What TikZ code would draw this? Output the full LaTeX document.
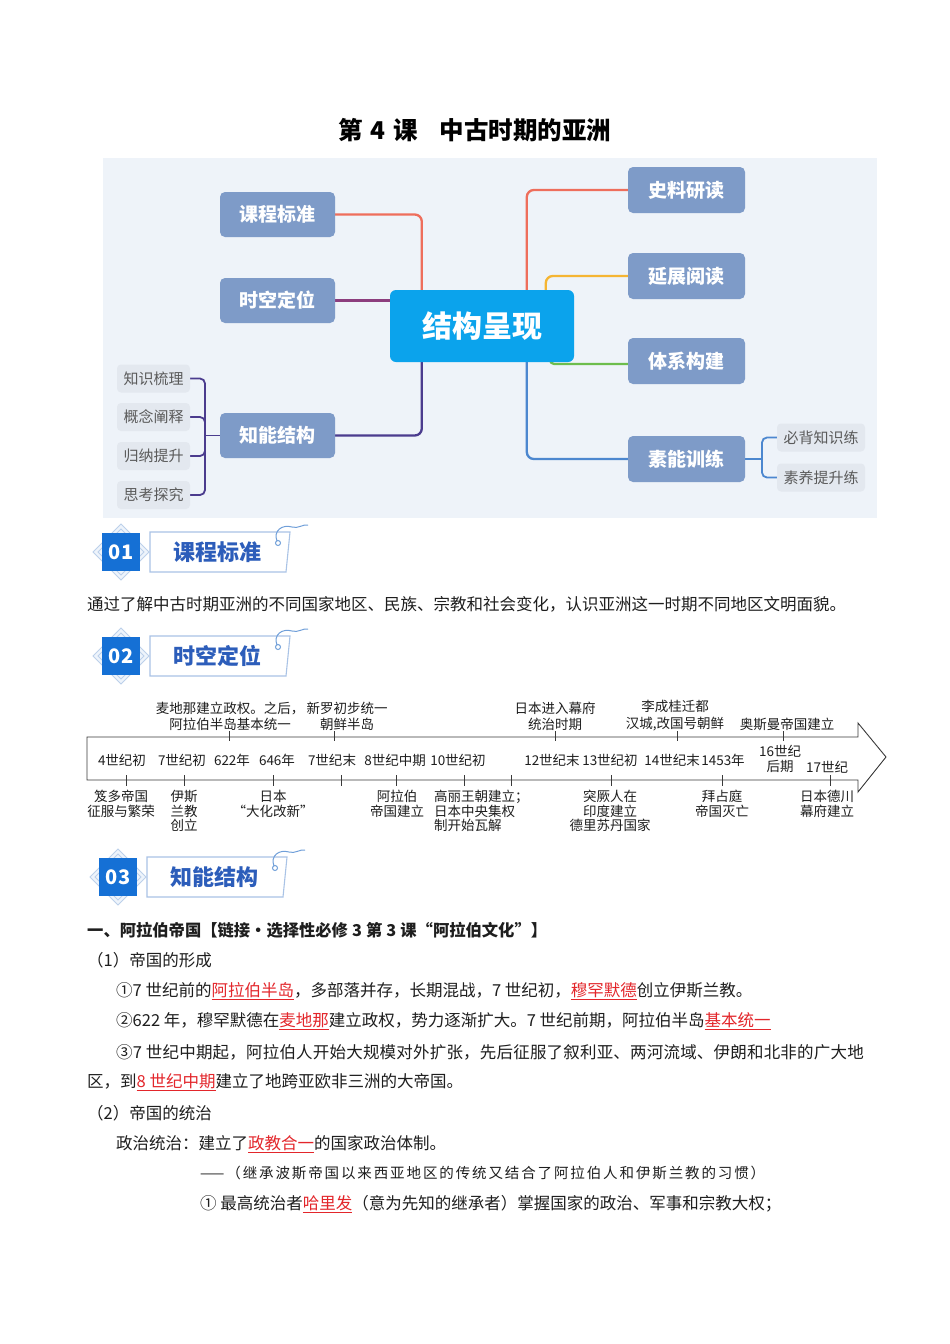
\documentclass[tikz,border=0pt]{standalone}
\usepackage{fontspec}
\setmainfont{Noto Sans CJK SC}
\usetikzlibrary{calc,backgrounds}
\definecolor{cMMbg}{HTML}{EEF3F9}
\definecolor{cMnode}{HTML}{7E9BC8}
\definecolor{cCenter}{HTML}{0BA3EC}
\definecolor{cSbg}{HTML}{E3E8EF}
\definecolor{cStext}{HTML}{5A5A5A}
\definecolor{cRed}{HTML}{EE6E5C}
\definecolor{cPur}{HTML}{8C3D7E}
\definecolor{cDpur}{HTML}{4B3C8E}
\definecolor{cOra}{HTML}{F5B533}
\definecolor{cGrn}{HTML}{6DBD4D}
\definecolor{cBlu}{HTML}{4C87CF}
\definecolor{cHblue}{HTML}{1570D5}
\definecolor{cHdia}{HTML}{BCD0EA}
\definecolor{cHdiafill}{HTML}{EEF4FB}
\definecolor{cHframe}{HTML}{A9C3E6}
\definecolor{cHtext}{HTML}{2C5DBA}
\definecolor{cBody}{HTML}{1E1E1E}
\definecolor{cRedt}{HTML}{E3262B}
\definecolor{cTl}{HTML}{3A3A3A}
\newcommand\setfs[2]{\fontsize{#1}{#2}\selectfont}
\newcommand\rdu[1]{{\color{cRedt}\underline{#1}}}
\newcommand\hdrbox[5]{%
\begin{scope}[shift={(#1,#2)}]
 \draw[hdiastyle] (21,-28) -- (49,0) -- (21,28) -- (-7,0) -- cycle;
 \draw[hdiastyle,fill=none] (21,-23) -- (44,0) -- (21,23) -- (-2,0) -- cycle;
 \node[hnumstyle] (#5n) at (21,0) {#3};
 \draw[hframestyle] (50,-20) -- (190,-20) -- (186,20) -- (50,20) -- cycle;
 \draw[hswirlstyle] (178,-9) circle (2.5);
 \draw[hswirlstyle] (177,-11) .. controls (173,-21) and (182,-28) .. (192,-25) .. controls (198,-23) and (203,-28) .. (208,-27);
 \node[htextstyle] (#5t) at (117,0) {#4};
\end{scope}}
\begin{document}
\begin{tikzpicture}[x=1pt,y=-1pt,
  mnode/.style={rounded corners=5pt, fill=cMnode, text=white, font=\setfs{19}{19}\bfseries, minimum width=115pt, minimum height=45pt, inner sep=0},
  rmnode/.style={mnode, minimum width=117pt, minimum height=46pt},
  cnode/.style={rounded corners=6pt, fill=cCenter, text=white, font=\setfs{30}{30}\bfseries, minimum width=184pt, minimum height=72pt, inner sep=0},
  snode/.style={rounded corners=4pt, fill=cSbg, text=cStext, font=\setfs{15}{15}, minimum width=73pt, minimum height=28pt, inner sep=0},
  rnode/.style={snode, minimum width=88pt},
  conn/.style={line width=2.3pt, rounded corners=7pt},
  bconn/.style={line width=1.8pt, rounded corners=5pt},
  tline/.style={draw=cTl, line width=0.9pt},
  tlab/.style={font=\setfs{13.5}{16.5}, align=center, inner sep=0, text=cBody},
  blab/.style={font=\setfs{13.5}{14.6}, align=center, inner sep=0, text=cBody, anchor=north},
  body/.style={font=\setfs{16.5}{16.5}, anchor=west, inner sep=0, text=cBody},
  hdiastyle/.style={draw=cHdia, fill=cHdiafill, line width=0.8pt},
  hnumstyle/.style={fill=cHblue, text=white, font=\setfs{20}{20}\bfseries, minimum width=38pt, minimum height=38pt, inner sep=0},
  hframestyle/.style={draw=cHframe, fill=white, line width=1.1pt},
  hswirlstyle/.style={draw=cBlu!80, line width=1pt},
  htextstyle/.style={text=cHtext, font=\setfs{22}{22}\bfseries, inner sep=0}
]
\useasboundingbox (0,0) rectangle (950,1344);

% title
\node[font=\setfs{24.5}{24.5}\bfseries, text=black, inner sep=0] (title) at (475,130) {第\hspace{0.3em}4\hspace{0.3em}课\hspace{0.9em}中古时期的亚洲};

% mind map nodes
\node[cnode] (jg) at (482,326) {结构呈现};
\node[mnode] (kc) at (277.5,214.5) {课程标准};
\node[mnode] (sk) at (277.5,300.5) {时空定位};
\node[mnode] (zn) at (277.5,435.5) {知能结构};
\node[rmnode] (sl) at (686.5,190) {史料研读};
\node[rmnode] (yz) at (686.5,276) {延展阅读};
\node[rmnode] (tx) at (686.5,361) {体系构建};
\node[rmnode] (sn) at (686.5,459) {素能训练};
\node[snode] (k1) at (153.5,378.5) {知识梳理};
\node[snode] (k2) at (153.5,417) {概念阐释};
\node[snode] (k3) at (153.5,456) {归纳提升};
\node[snode] (k4) at (153.5,495) {思考探究};
\node[rnode] (r1) at (821,437.5) {必背知识练};
\node[rnode] (r2) at (821,477.5) {素养提升练};
\coordinate (bl) at (205,435.5);
\coordinate (br) at (762,459);

\begin{scope}[on background layer]
\fill[white] (0,0) rectangle (950,1344);
\fill[cMMbg] (103,158) rectangle (877,518);
\draw[conn,cRed] (kc.east) -| ([xshift=32pt]jg.north west);
\draw[conn,cPur] (sk.east) -- (sk.east -| jg.west);
\draw[conn,cDpur] (zn.east) -| ([xshift=32pt]jg.south west);
\draw[conn,cRed] ([xshift=137pt]jg.north west) |- (sl.west);
\draw[conn,cOra] ([xshift=156pt]jg.north west) |- (yz.west);
\draw[conn,cGrn,rounded corners=4pt] ([xshift=-24pt]jg.south east) |- ([yshift=-3pt]tx.west);
\draw[conn,cBlu] ([xshift=137pt]jg.south west) |- (sn.west);
\draw[bconn,cDpur] (zn.west) -- (bl);
\draw[bconn,cDpur] (k1.east) -| (bl) |- (k4.east);
\draw[bconn,cDpur] (k2.east) -| (bl);
\draw[bconn,cDpur] (k3.east) -| (bl);
\draw[bconn,cBlu] (sn.east) -- (br);
\draw[bconn,cBlu] (r1.west) -| (br) |- (r2.west);
\end{scope}

% section headers
\hdrbox{100}{552}{01}{课程标准}{h1}
\hdrbox{100}{656}{02}{时空定位}{h2}
\hdrbox{97}{877}{03}{知能结构}{h3}

% course standard text
\node[body] (l1) at (87,604) {通过了解中古时期亚洲的不同国家地区、民族、宗教和社会变化，认识亚洲这一时期不同地区文明面貌。};

% timeline
\draw[tline] (87,737) -- (858,737) -- (858,723) -- (886,757) -- (858,792) -- (858,780) -- (87,780) -- cycle;
\foreach \x in {229,334,555,677,783} { \draw[tline] (\x,731) -- (\x,741); }
\foreach \x in {126,184,273,341,396,464,511,611,722,830} { \draw[tline] (\x,775) -- (\x,786); }
\node[tlab,anchor=south] (ta1) at (230,731) {麦地那建立政权。之后，\\阿拉伯半岛基本统一};
\node[tlab,anchor=south] (ta2) at (347,731) {新罗初步统一\\朝鲜半岛};
\node[tlab,anchor=south] (ta3) at (555,731) {日本进入幕府\\统治时期};
\node[tlab,anchor=south] (ta4) at (675,731) {李成桂迁都\\汉城,改国号朝鲜};
\node[tlab,anchor=south] (ta5) at (787,731) {奥斯曼帝国建立};
\node[tlab] (tm1) at (122,760) {4世纪初};
\node[tlab] (tm2) at (182,760) {7世纪初};
\node[tlab] (tm3) at (232,760) {622年};
\node[tlab] (tm4) at (277,760) {646年};
\node[tlab] (tm5) at (332,760) {7世纪末};
\node[tlab] (tm6) at (395,760) {8世纪中期};
\node[tlab] (tm7) at (458,760) {10世纪初};
\node[tlab] (tm8) at (552,760) {12世纪末};
\node[tlab] (tm9) at (610,760) {13世纪初};
\node[tlab] (tm10) at (672,760) {14世纪末};
\node[tlab] (tm11) at (723,760) {1453年};
\node[tlab,font=\setfs{13.5}{15}] (tm12) at (780,759) {16世纪\\后期};
\node[tlab] (tm13) at (827,767) {17世纪};
\node[blab] (tb1) at (121,790) {笈多帝国\\征服与繁荣};
\node[blab] (tb2) at (184,790) {伊斯\\兰教\\创立};
\node[blab] (tb3) at (273,790) {日本\\“大化改新”};
\node[blab] (tb4) at (397,790) {阿拉伯\\帝国建立};
\node[blab,anchor=north west,align=left] (tb5) at (434,790) {高丽王朝建立；\\日本中央集权\\制开始瓦解};
\node[blab] (tb6) at (610,790) {突厥人在\\印度建立\\德里苏丹国家};
\node[blab] (tb7) at (722,790) {拜占庭\\帝国灭亡};
\node[blab] (tb8) at (827,790) {日本德川\\幕府建立};

% knowledge text
\node[body,font=\setfs{16.3}{16.3}\bfseries] (l2) at (87,930) {一、阿拉伯帝国【链接·选择性必修\hspace{0.25em}3\hspace{0.25em}第\hspace{0.25em}3\hspace{0.25em}课“阿拉伯文化”】};
\node[body] (l3) at (87,960) {（1）帝国的形成};
\node[body] (l4) at (116,991) {①7 世纪前的\rdu{阿拉伯半岛}，多部落并存，长期混战，7 世纪初，\rdu{穆罕默德}创立伊斯兰教。};
\node[body] (l5) at (116,1021) {②622 年，穆罕默德在\rdu{麦地那}建立政权，势力逐渐扩大。7 世纪前期，阿拉伯半岛\rdu{基本统一}};
\node[body] (l6) at (116,1052) {\addfontfeature{LetterSpace=1.2}③7 世纪中期起，阿拉伯人开始大规模对外扩张，先后征服了叙利亚、两河流域、伊朗和北非的广大地};
\node[body] (l7) at (87,1082) {区，到\rdu{8 世纪中期}建立了地跨亚欧非三洲的大帝国。};
\node[body] (l8) at (87,1113) {（2）帝国的统治};
\node[body] (l9) at (116,1144) {政治统治：建立了\rdu{政教合一}的国家政治体制。};
\node[body,font=\setfs{14.5}{14.5}] (l10) at (200,1173) {\addfontfeature{LetterSpace=13}——（继承波斯帝国以来西亚地区的传统又结合了阿拉伯人和伊斯兰教的习惯）};
\node[body] (l11) at (200,1204) {① 最高统治者\rdu{哈里发}（意为先知的继承者）掌握国家的政治、军事和宗教大权；};
\end{tikzpicture}
\end{document}
